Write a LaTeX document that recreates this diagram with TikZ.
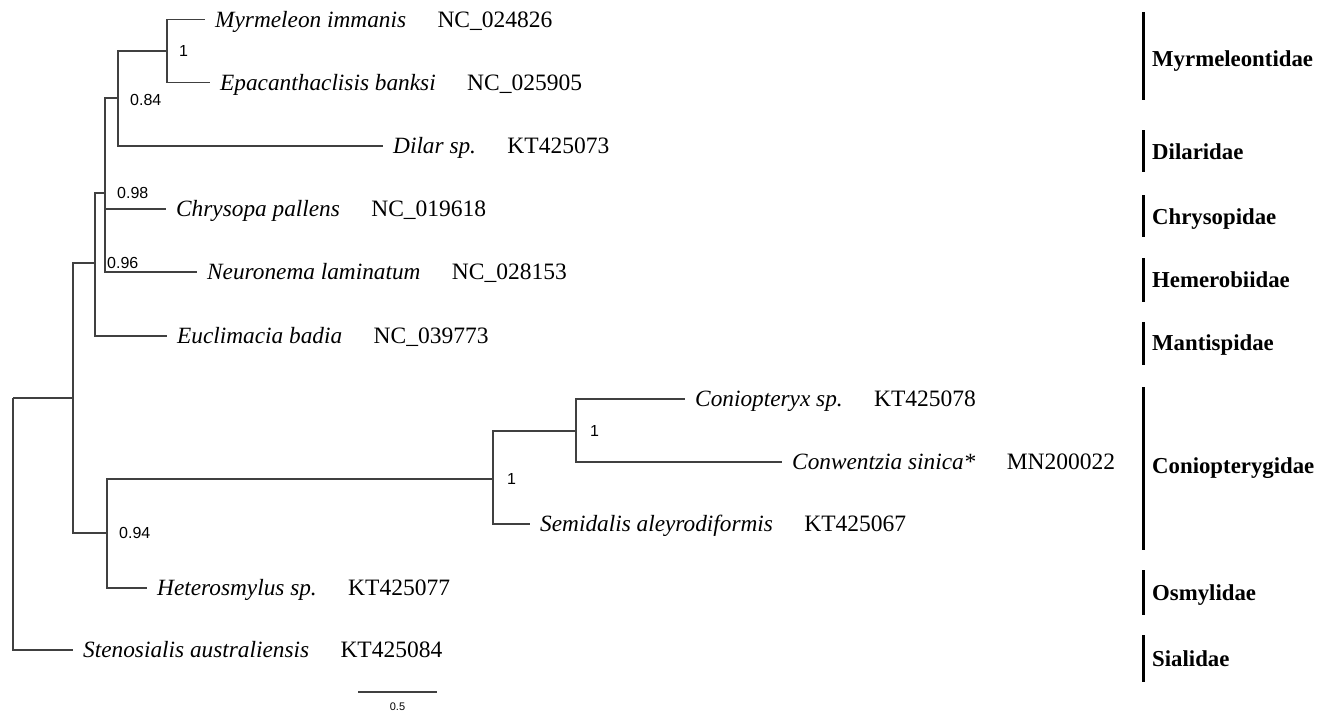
\documentclass[tikz,border=0pt]{standalone}
\usepackage{fontspec}
\setmainfont{Liberation Serif}
\newfontfamily\arialfont{Liberation Sans}
\usepackage{tikz}

\begin{document}
\begin{tikzpicture}[x={(1pt,0)},y={(0,-1pt)},
    branch/.style={line width=1.3pt, black!75},
    taxon/.style={anchor=base west, inner sep=0pt, xshift=10pt, yshift=-7.7pt, font=\fontsize{23.3}{27}\selectfont\itshape},
    acc/.style={anchor=base west, inner sep=0pt, xshift=31pt, font=\fontsize{23.5}{27}\selectfont},
    supp/.style={anchor=west, inner sep=0pt, xshift=12pt, font=\arialfont\fontsize{16}{19}\selectfont},
    family/.style={anchor=base west, inner sep=0pt, yshift=-7.5pt, font=\fontsize{22.8}{26}\selectfont\bfseries},
    famBar/.style={line width=3pt}]
        \useasboundingbox (0,0) rectangle (1329,713);

        \coordinate(nRoot) at (13,398);
        \coordinate(nA) at (73,398);
        \coordinate(nB) at (95,263);
        \coordinate(nC) at (105,193);
        \coordinate(nD) at (118,98);
        \coordinate(nE) at (167,51);
        \coordinate(nOsm) at (107,533);
        \coordinate(nConio) at (493,479);
        \coordinate(nF) at (576,431);

        \coordinate(tMyrm) at (205,19.5);
        \coordinate(tEpac) at (210,82.7);
        \coordinate(tDilar) at (383,146);
        \coordinate(tChry) at (166,209);
        \coordinate(tNeur) at (197,272);
        \coordinate(tEucl) at (167,336);
        \coordinate(tConi) at (685,399);
        \coordinate(tConw) at (782,462);
        \coordinate(tSemi) at (530,524);
        \coordinate(tHete) at (147,588);
        \coordinate(tSten) at (73,650);

        \node(sMyrm) at (tMyrm) [taxon]{Myrmeleon immanis};
        \node(sEpac) at (tEpac) [taxon]{Epacanthaclisis banksi};
        \node(sDilar) at (tDilar) [taxon]{Dilar sp.};
        \node(sChry) at (tChry) [taxon]{Chrysopa pallens};
        \node(sNeur) at (tNeur) [taxon]{Neuronema laminatum};
        \node(sEucl) at (tEucl) [taxon]{Euclimacia badia};
        \node(sConi) at (tConi) [taxon]{Coniopteryx sp.};
        \node(sConw) at (tConw) [taxon]{Conwentzia sinica*};
        \node(sSemi) at (tSemi) [taxon]{Semidalis aleyrodiformis};
        \node(sHete) at (tHete) [taxon]{Heterosmylus sp.};
        \node(sSten) at (tSten) [taxon]{Stenosialis australiensis};

        \node(aMyrm) at (sMyrm.base east) [acc]{NC\_024826};
        \node(aEpac) at (sEpac.base east) [acc]{NC\_025905};
        \node(aDilar) at (sDilar.base east) [acc]{KT425073};
        \node(aChry) at (sChry.base east) [acc]{NC\_019618};
        \node(aNeur) at (sNeur.base east) [acc]{NC\_028153};
        \node(aEucl) at (sEucl.base east) [acc]{NC\_039773};
        \node(aConi) at (sConi.base east) [acc]{KT425078};
        \node(aConw) at (sConw.base east) [acc]{MN200022};
        \node(aSemi) at (sSemi.base east) [acc]{KT425067};
        \node(aHete) at (sHete.base east) [acc]{KT425077};
        \node(aSten) at (sSten.base east) [acc]{KT425084};

        \node(bE) at (nE) [supp]{1};
        \node(bD) at (nD) [supp, yshift=-2pt]{0.84};
        \node(bC) at (nC) [supp]{0.98};
        \node(bB) at (nB) [supp]{0.96};
        \node(bOsm) at (nOsm) [supp]{0.94};
        \node(bConio) at (nConio) [supp, xshift=2pt]{1};
        \node(bF) at (nF) [supp, xshift=2pt]{1};

        \draw[branch] (nRoot) |- (nA);
        \draw[branch] (nRoot) |- (tSten);
        \draw[branch] (nA) |- (nB);
        \draw[branch] (nA) |- (nOsm);
        \draw[branch] (nB) |- (nC);
        \draw[branch] (nB) |- (tEucl);
        \draw[branch] (nC) |- (nD);
        \draw[branch] (nC) |- (tChry);
        \draw[branch] (nC) |- (tNeur);
        \draw[branch] (nD) |- (nE);
        \draw[branch] (nD) |- (tDilar);
        \draw[branch] (nE) |- (tMyrm);
        \draw[branch] (nE) |- (tEpac);
        \draw[branch] (nOsm) |- (nConio);
        \draw[branch] (nOsm) |- (tHete);
        \draw[branch] (nConio) |- (nF);
        \draw[branch] (nConio) |- (tSemi);
        \draw[branch] (nF) |- (tConi);
        \draw[branch] (nF) |- (tConw);

        \draw[famBar] (1143,12) -- (1143,100);
        \draw[famBar] (1143,130) -- (1143,172);
        \draw[famBar] (1143,195) -- (1143,237);
        \draw[famBar] (1143,258) -- (1143,302);
        \draw[famBar] (1143,322) -- (1143,365);
        \draw[famBar] (1143,387) -- (1143,550);
        \draw[famBar] (1143,570) -- (1143,615);
        \draw[famBar] (1143,635) -- (1143,682);

        \node(fMyrm) at (1152,59) [family]{Myrmeleontidae};
        \node(fDila) at (1152,152) [family]{Dilaridae};
        \node(fChry) at (1152,217) [family]{Chrysopidae};
        \node(fHeme) at (1152,280) [family]{Hemerobiidae};
        \node(fMant) at (1152,343) [family]{Mantispidae};
        \node(fConi) at (1152,466) [family]{Coniopterygidae};
        \node(fOsmy) at (1152,593) [family]{Osmylidae};
        \node(fSial) at (1152,659) [family]{Sialidae};

        \coordinate(sc1) at (358,692);
        \coordinate(sc2) at (437,692);
        \draw[branch] (sc1) -- (sc2);
        \node(scale) at (397.5,707) [font=\arialfont\fontsize{11}{13}\selectfont, inner sep=0pt]{0.5};

      \end{tikzpicture}
\end{document}
